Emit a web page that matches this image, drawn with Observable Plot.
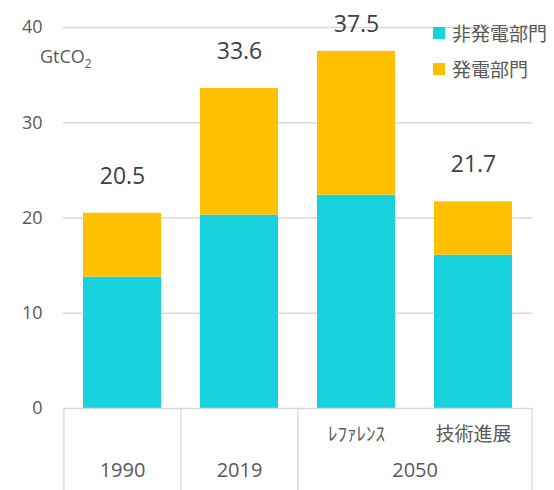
<!DOCTYPE html>
<html><head><meta charset="utf-8">
<script src="https://cdn.jsdelivr.net/npm/d3@7"></script>
<script src="https://cdn.jsdelivr.net/npm/@observablehq/plot@0.6"></script>
<style>
body{margin:0;background:#fff;}
#wrap{position:relative;width:554px;height:490px;font-family:"Open Sans","Noto Sans CJK JP",sans-serif;color:#595959;}
#wrap svg{position:absolute;left:0;top:0;}
.leg{position:absolute;left:433px;display:flex;align-items:center;font-family:"Noto Sans CJK JP",sans-serif;font-size:19px;line-height:1;}
.leg i{display:inline-block;width:12px;height:12px;margin-right:7px;}
#unit{position:absolute;left:40px;top:46px;font-size:18px;line-height:1.2;}
#unit sub{font-size:12px;vertical-align:-5px;line-height:0;}
</style></head><body><div id="wrap"></div>
<script>
const categories = ["1990","2019","ﾚﾌｧﾚﾝｽ","技術進展"];
const subLabels = ["","","ﾚﾌｧﾚﾝｽ","技術進展"];
const groupLabels = ["1990","2019","2050"];
const groupFirst = ["1990","2019","ﾚﾌｧﾚﾝｽ"];
const groupLast = ["1990","2019","技術進展"];
const seriesNames = ["非発電部門","発電部門"];
const nonPower = [13.8, 20.3, 22.4, 16.1];
const power = [6.7, 13.3, 15.1, 5.6];
const totals = [20.5, 33.6, 37.5, 21.7];
const colors = ["#17D2DC","#FFC000"];
const yTicks = [0,10,20,30,40];

const W = 554, H = 490, mL = 63, mR = 22, mT = 27, mB = 82;
const yMax = 40;
const step = (W - mL - mR) / categories.length;
const pxPerUnit = (H - mT - mB) / yMax;

const rows = [];
categories.forEach((c,i)=>{
  rows.push({cat:c, series:seriesNames[0], value:nonPower[i]});
  rows.push({cat:c, series:seriesNames[1], value:power[i]});
});
const totalRows = categories.map((c,i)=>({cat:c, total:totals[i]}));
const subRows = categories.map((c,i)=>({cat:c, label:subLabels[i]})).filter(d=>d.label);
const allGroups = groupLabels.map((g,i)=>({label:g, first:groupFirst[i], last:groupLast[i]}));
const singleGroups = allGroups.filter(d=>d.first===d.last);
const multiGroups = allGroups.filter(d=>d.first!==d.last);

// label sits 37px above the bar, but never higher than 3px above the top of the frame
const labelY = d => Math.min(d.total + 37 / pxPerUnit, yMax + 3 / pxPerUnit);

const chart = Plot.plot({
  width: W, height: H,
  marginLeft: mL, marginRight: mR, marginTop: mT, marginBottom: mB,
  style: {fontFamily: '"Open Sans","Noto Sans CJK JP",sans-serif', color:"#595959", background:"transparent"},
  x: {domain: categories, paddingInner: 0.333, paddingOuter: 0.1667, axis: null, label: null},
  y: {domain: [0,yMax], axis: null, label: null},
  color: {domain: seriesNames, range: colors},
  marks: [
    Plot.gridY(yTicks.filter(d=>d>0), {stroke:"#d9d9d9", strokeOpacity:1, strokeWidth:1.3}),
    Plot.axisY(yTicks, {tickSize:0, tickPadding:21, fontSize:18, fill:"#595959", label:null}),
    Plot.barY(rows, {x:"cat", y:"value", fill:"series"}),
    Plot.ruleY([0], {stroke:"#d9d9d9", strokeWidth:1.3}),
    Plot.ruleX(groupFirst, {x: d=>d, y1:0, y2:0, insetBottom:-(mB), dx:-step/2, stroke:"#d9d9d9", strokeWidth:1.3}),
    Plot.ruleX([groupLast[groupLast.length-1]], {x: d=>d, y1:0, y2:0, insetBottom:-(mB), dx:step/2, stroke:"#d9d9d9", strokeWidth:1.3}),
    Plot.text(totalRows, {x:"cat", y:labelY, text: d=>d.total.toFixed(1), fontSize:23, fill:"#404040"}),
    Plot.text(subRows, {x:"cat", text:"label", frameAnchor:"bottom", dy:32, fontSize:19, fill:"#595959", fontFamily:'"Noto Sans CJK JP",sans-serif'}),
    Plot.text(singleGroups, {x:"first", text:"label", frameAnchor:"bottom", dy:68, fontSize:20, fill:"#595959"}),
    Plot.text(multiGroups, {x:"first", text:"label", frameAnchor:"bottom", dy:68, dx:step/2, fontSize:20, fill:"#595959"})
  ]
});
const wrap = document.getElementById("wrap");
wrap.appendChild(chart);

const unit = document.createElement("div");
unit.id = "unit";
unit.innerHTML = "GtCO<sub>2</sub>";
wrap.appendChild(unit);

const legTops = [23, 59];
seriesNames.forEach((s,i)=>{
  const d = document.createElement("div");
  d.className = "leg";
  d.style.top = legTops[i] + "px";
  d.innerHTML = `<i style="background:${colors[i]}"></i><span>${s}</span>`;
  wrap.appendChild(d);
});
</script></body></html>
